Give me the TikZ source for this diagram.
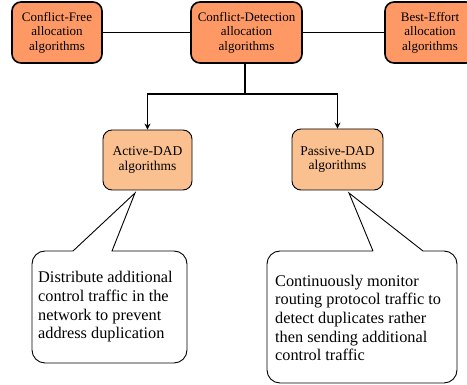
\documentclass[tikz,border=0pt]{standalone}
\usepackage{fontspec}
\setmainfont{Liberation Serif}
\usetikzlibrary{arrows.meta}
\definecolor{topfill}{HTML}{FE9966}
\definecolor{subfill}{HTML}{FBC090}
\tikzset{
  topbox/.style={draw, line width=1.6pt, fill=topfill, rounded corners=9pt, align=center,
    font=\fontsize{13}{14.6}\selectfont, inner sep=0pt},
  subbox/.style={draw, line width=0.9pt, fill=subfill, rounded corners=9pt, align=center,
    font=\fontsize{13.5}{14.4}\selectfont, inner sep=0pt},
  link/.style={line width=1.5pt},
  arr/.style={line width=1.5pt, -{Stealth[length=6pt,width=6pt]}},
  callout/.style={draw, line width=0.9pt, fill=white},
  calltext/.style={align=left, font=\fontsize{16.3}{18.7}\selectfont, inner sep=0pt}
}
\begin{document}
\begin{tikzpicture}[x=1pt,y=-1pt]
\useasboundingbox (0,0) rectangle (467,385);
\clip (0,0) rectangle (467,385);
\fill[white] (0,0) rectangle (467,385);
% top row
\node[topbox, minimum width=90pt, minimum height=61pt] (cf) at (57,32.5) {Conflict-Free\\allocation\\algorithms};
\node[topbox, minimum width=111pt, minimum height=61pt] (cd) at (246.5,32.5) {Conflict-Detection\\allocation\\algorithms};
\node[topbox, minimum width=90pt, minimum height=61pt] (be) at (430,32.5) {Best-Effort\\allocation\\algorithms};
\draw[link] (cf) -- (cd);
\draw[link] (cd) -- (be);
% second row
\node[subbox, minimum width=89pt, minimum height=60pt] (ad) at (147.5,160) {Active-DAD\\algorithms};
\node[subbox, minimum width=91pt, minimum height=61pt] (pd) at (337.5,159.5) {Passive-DAD\\algorithms};
\coordinate (j) at (245,94);
\draw[link] (cd.south -| j) -- (j);
\draw[arr] (j) -| (ad.north);
\draw[arr] (j) -| (pd.north);
% callouts
\coordinate (ta) at (135,193);
\coordinate (tp) at (349,193);
\draw[callout] (73,251) -- (ta) -- (112,251) [rounded corners=13pt] -- (187,251) -- (187,363) -- (32,363) -- (32,251) -- (73,251);
\draw[callout] (373,251) -- (tp) -- (423,251) [rounded corners=13pt] -- (457,251) -- (457,383) -- (267,383) -- (267,251) -- (373,251);
\node[calltext, anchor=west] (ta-text) at (38,307) {Distribute additional\\control traffic in the\\network to prevent\\address duplication};
\node[calltext, anchor=west] (tp-text) at (275,318) {Continuously monitor\\routing protocol traffic to\\detect duplicates rather\\then sending additional\\control traffic};
\end{tikzpicture}
\end{document}
